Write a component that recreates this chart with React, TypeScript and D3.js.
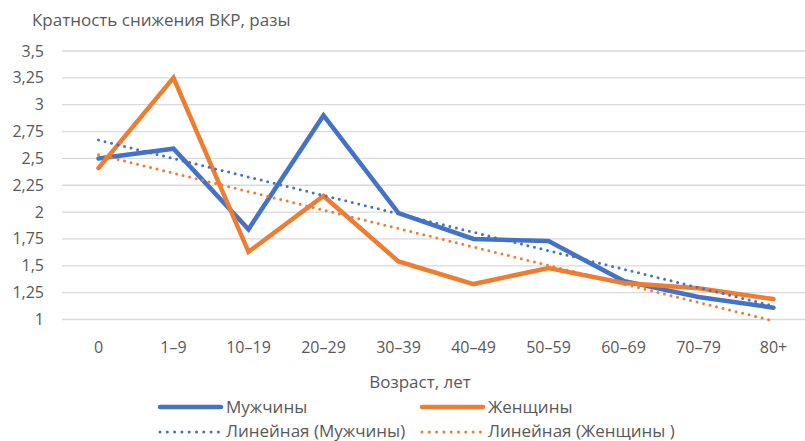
import { useRef, useEffect } from 'react'
import * as d3 from 'd3'

const ageGroups = ['0', '1–9', '10–19', '20–29', '30–39', '40–49', '50–59', '60–69', '70–79', '80+']
const menValues = [2.5, 2.59, 1.84, 2.9, 1.99, 1.75, 1.73, 1.36, 1.21, 1.11]
const womenValues = [2.41, 3.25, 1.63, 2.15, 1.54, 1.33, 1.48, 1.34, 1.29, 1.19]
const yTicks = [1, 1.25, 1.5, 1.75, 2, 2.25, 2.5, 2.75, 3, 3.25, 3.5]

const series = [
  { name: 'Мужчины', trendName: 'Линейная (Мужчины)', values: menValues, color: '#4472C4' },
  { name: 'Женщины', trendName: 'Линейная (Женщины )', values: womenValues, color: '#ED7D31' }
]

const FONT = '"Open Sans", sans-serif'
const TEXT = '#595959'

// least squares fit over category index, as Excel's linear trendline does
function linearFit(values: number[]) {
  const n = values.length
  const mx = d3.mean(values.map((_, i) => i))!
  const my = d3.mean(values)!
  let sxy = 0
  let sxx = 0
  values.forEach((v, i) => {
    sxy += (i - mx) * (v - my)
    sxx += (i - mx) * (i - mx)
  })
  const slope = sxy / sxx
  return [0, n - 1].map(i => ({ i, v: my + slope * (i - mx) }))
}

function App() {
  const ref = useRef<SVGSVGElement>(null)

  useEffect(() => {
    document.body.style.margin = '0'
    if (!ref.current) return
    const svg = d3.select(ref.current)
    svg.selectAll('*').remove()

    const x = d3.scaleBand<string>().domain(ageGroups).range([61, 811]).padding(0)
    const y = d3.scaleLinear().domain([1, 3.5]).range([319.5, 51])
    const cx = (i: number) => x(ageGroups[i])! + x.bandwidth() / 2

    // gridlines
    svg.append('g')
      .selectAll('line')
      .data(yTicks)
      .enter()
      .append('line')
      .attr('x1', 62)
      .attr('x2', 805)
      .attr('y1', d => y(d))
      .attr('y2', d => y(d))
      .attr('stroke', '#D9D9D9')
      .attr('stroke-width', 1.3)

    // y tick labels
    svg.append('g')
      .selectAll('text')
      .data(yTicks)
      .enter()
      .append('text')
      .attr('x', 44)
      .attr('y', d => y(d) + 5.5)
      .attr('text-anchor', 'end')
      .attr('font-family', FONT)
      .attr('font-size', 16)
      .attr('fill', TEXT)
      .text(d => d3.format('')(d).replace('.', ','))

    // x tick labels
    svg.append('g')
      .selectAll('text')
      .data(ageGroups)
      .enter()
      .append('text')
      .attr('x', d => x(d)! + x.bandwidth() / 2)
      .attr('y', 353)
      .attr('text-anchor', 'middle')
      .attr('font-family', FONT)
      .attr('font-size', 16)
      .attr('fill', TEXT)
      .text(d => d)

    // axis titles
    svg.append('text')
      .attr('x', 32)
      .attr('y', 26)
      .attr('font-family', FONT)
      .attr('font-size', 17)
      .attr('fill', TEXT)
      .text('Кратность снижения ВКР, разы')

    svg.append('text')
      .attr('x', 420)
      .attr('y', 388)
      .attr('text-anchor', 'middle')
      .attr('font-family', FONT)
      .attr('font-size', 17)
      .attr('fill', TEXT)
      .text('Возраст, лет')

    const line = d3.line<number>()
      .x((_, i) => cx(i))
      .y(d => y(d))

    series.forEach(s => {
      svg.append('path')
        .datum(s.values)
        .attr('d', line)
        .attr('fill', 'none')
        .attr('stroke', s.color)
        .attr('stroke-width', 4.5)
        .attr('stroke-linecap', 'round')
    })

    series.forEach(s => {
      const fit = linearFit(s.values)
      svg.append('line')
        .attr('x1', cx(fit[0].i))
        .attr('y1', y(fit[0].v))
        .attr('x2', cx(fit[1].i))
        .attr('y2', y(fit[1].v))
        .attr('stroke', s.color)
        .attr('stroke-width', 3)
        .attr('stroke-linecap', 'round')
        .attr('stroke-dasharray', '0 6.7')
    })

    // legend
    const legendX = [159, 421]
    series.forEach((s, k) => {
      const g = svg.append('g').attr('transform', `translate(${legendX[k]},0)`)
      g.append('line')
        .attr('x1', 1).attr('x2', 62)
        .attr('y1', 407).attr('y2', 407)
        .attr('stroke', s.color)
        .attr('stroke-width', 4.5)
        .attr('stroke-linecap', 'round')
      g.append('text')
        .attr('x', 67).attr('y', 413)
        .attr('font-family', FONT)
        .attr('font-size', 17)
        .attr('fill', TEXT)
        .text(s.name)
      g.append('line')
        .attr('x1', 1).attr('x2', 60)
        .attr('y1', 432).attr('y2', 432)
        .attr('stroke', s.color)
        .attr('stroke-width', 3)
        .attr('stroke-linecap', 'round')
        .attr('stroke-dasharray', '0 7.3')
      g.append('text')
        .attr('x', 67).attr('y', 437)
        .attr('font-family', FONT)
        .attr('font-size', 17)
        .attr('fill', TEXT)
        .text(s.trendName)
    })
  }, [])

  return <svg ref={ref} width={805} height={441} style={{ display: 'block', background: '#fff' }} />
}

export default App
